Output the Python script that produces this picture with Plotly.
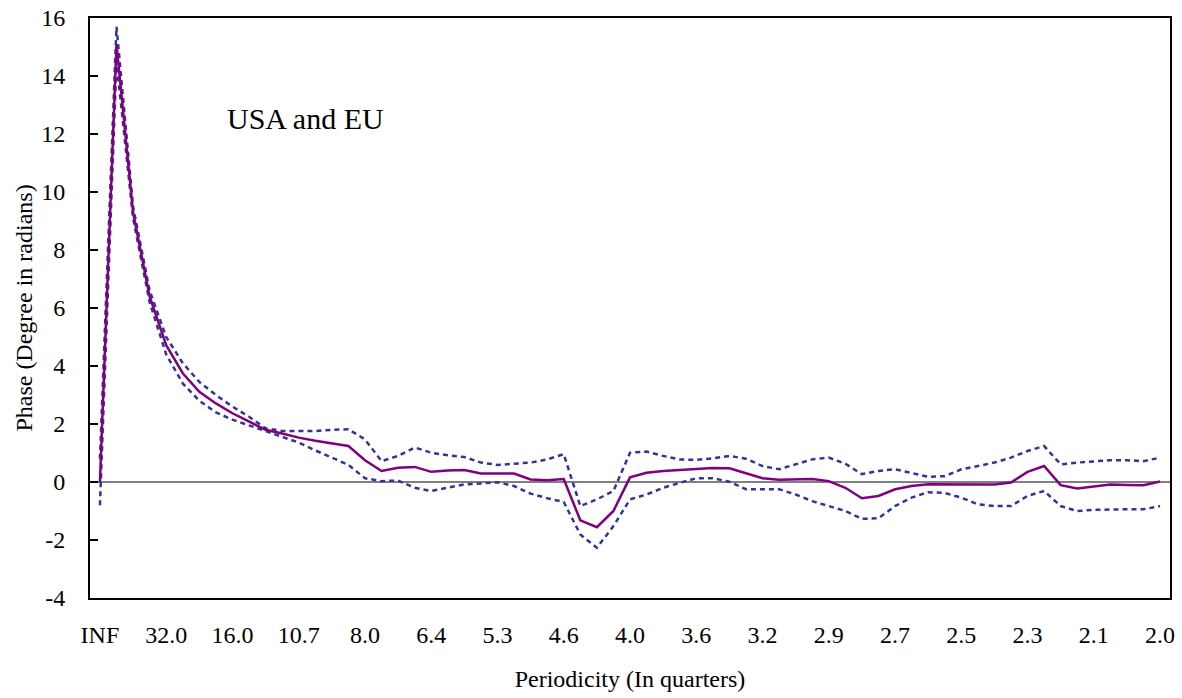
import plotly.graph_objects as go

# Periodicity labels (every 4th frequency point, 65 points in total)
tick_labels = ["INF", "32.0", "16.0", "10.7", "8.0", "6.4", "5.3", "4.6", "4.0",
               "3.6", "3.2", "2.9", "2.7", "2.5", "2.3", "2.1", "2.0"]
y_ticks = [-4, -2, 0, 2, 4, 6, 8, 10, 12, 14, 16]

# Phase estimate
phase = [0.0, 15.1, 9.3, 6.4, 4.72, 3.75, 3.11, 2.71, 2.37, 2.08,
         1.8, 1.67, 1.53, 1.42, 1.32, 1.24, 0.75, 0.38, 0.49, 0.52,
         0.35, 0.4, 0.41, 0.29, 0.29, 0.29, 0.09, 0.06, 0.1, -1.32,
         -1.56, -1.0, 0.16, 0.32, 0.38, 0.41, 0.46, 0.48, 0.47, 0.29,
         0.13, 0.08, 0.08, 0.1, 0.03, -0.2, -0.56, -0.48, -0.25, -0.14,
         -0.08, -0.08, -0.08, -0.1, -0.09, -0.02, 0.35, 0.55, -0.11, -0.22,
         -0.15, -0.09, -0.1, -0.11, 0.02]

# Upper confidence band
upper = [0.8, 15.7, 9.5, 6.6, 5.0, 4.1, 3.45, 3.0, 2.6, 2.25,
         1.85, 1.76, 1.76, 1.76, 1.8, 1.82, 1.47, 0.72, 0.9, 1.19,
         1.01, 0.92, 0.86, 0.67, 0.59, 0.63, 0.67, 0.78, 0.96, -0.83,
         -0.6, -0.31, 1.01, 1.05, 0.9, 0.78, 0.76, 0.82, 0.9, 0.8,
         0.55, 0.44, 0.61, 0.78, 0.84, 0.63, 0.27, 0.38, 0.44, 0.32,
         0.18, 0.2, 0.44, 0.55, 0.67, 0.84, 1.07, 1.24, 0.61, 0.67,
         0.72, 0.75, 0.75, 0.72, 0.84]

# Lower confidence band
lower = [-0.8, 14.5, 9.1, 6.2, 4.4, 3.4, 2.8, 2.4, 2.15, 1.95,
         1.75, 1.57, 1.36, 1.09, 0.84, 0.59, 0.13, 0.03, 0.05, -0.2,
         -0.31, -0.2, -0.08, -0.05, -0.01, -0.14, -0.4, -0.56, -0.69, -1.81,
         -2.27, -1.52, -0.6, -0.43, -0.2, -0.03, 0.13, 0.13, 0.01, -0.25,
         -0.25, -0.25, -0.43, -0.66, -0.83, -1.0, -1.27, -1.25, -0.83, -0.54,
         -0.35, -0.38, -0.54, -0.77, -0.83, -0.83, -0.48, -0.31, -0.83, -1.0,
         -0.96, -0.94, -0.94, -0.94, -0.83]

x = list(range(len(phase)))
font = "Liberation Serif, Times New Roman, serif"

fig = go.Figure()
fig.add_trace(go.Scatter(x=x, y=upper, mode="lines",
                         line=dict(color="#333399", width=2.5, dash="5px,4px")))
fig.add_trace(go.Scatter(x=x, y=lower, mode="lines",
                         line=dict(color="#333399", width=2.5, dash="5px,4px")))
fig.add_trace(go.Scatter(x=x, y=phase, mode="lines",
                         line=dict(color="#800080", width=2.5)))

fig.add_annotation(text="USA and EU", x=12.4, y=12.55, xref="x", yref="y",
                   showarrow=False, font=dict(family=font, size=30, color="black"))

fig.update_layout(
    width=1182, height=698,
    margin=dict(l=90, r=12, t=18, b=100),
    paper_bgcolor="white", plot_bgcolor="white",
    showlegend=False,
    font=dict(family=font, size=24, color="black"),
)
fig.update_xaxes(
    range=[-0.6, 64.6], tickvals=x[::4], ticktext=tick_labels,
    showgrid=False, zeroline=False, ticks="", ticklabelstandoff=14,
    showline=True, linecolor="black", linewidth=2, mirror=True, automargin=False,
    title=dict(text="Periodicity (In quarters)", font=dict(size=24), standoff=23),
)
fig.update_yaxes(
    range=[-4, 16], tickvals=y_ticks, ticktext=[str(v) for v in y_ticks], showgrid=False,
    zeroline=True, zerolinecolor="#808080", zerolinewidth=1.5,
    ticks="inside", ticklen=8, tickwidth=2, tickcolor="black", ticklabelstandoff=18,
    showline=True, linecolor="black", linewidth=2, mirror=True, automargin=False,
    title=dict(text="Phase (Degree in radians)", font=dict(size=24), standoff=2),
)

fig.write_html("out.html", config={"displayModeBar": False},
               post_script="document.body.style.margin='0';")
